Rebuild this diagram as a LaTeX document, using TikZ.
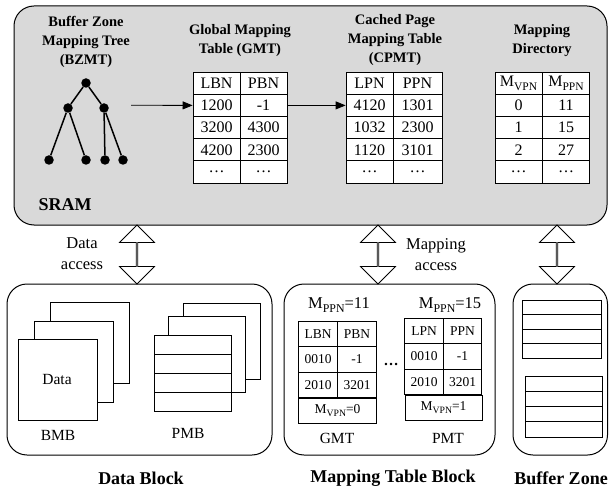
\documentclass[tikz,border=0pt]{standalone}
\usepackage{amsmath}
\usepackage{graphicx}
\usepackage{fontspec}
\setmainfont{Liberation Serif}
\usetikzlibrary{arrows.meta,shapes.arrows,positioning}
\definecolor{sramgray}{rgb}{0.85,0.85,0.85}
\newcommand{\Msub}[1]{M\raisebox{-.45ex}{\scalebox{.72}{#1}}}
\tikzset{
  cell/.style={draw, fill=white, line width=0.8pt, minimum width=47pt, minimum height=22.2pt, inner sep=0pt, font=\fontsize{16}{18}\selectfont},
  smallcell/.style={draw, fill=white, line width=0.8pt, minimum width=38.5pt, minimum height=25.5pt, inner sep=0pt, font=\fontsize{13.5}{16}\selectfont},
  tabtitle/.style={align=center, font=\bfseries\fontsize{14.5}{19}\selectfont},
  blockname/.style={font=\bfseries\fontsize{18}{20}\selectfont},
  txt/.style={align=center, font=\fontsize{16.5}{21}\selectfont},
  dblarrow/.style={draw, fill=white, line width=0.8pt, shape=double arrow, shape border rotate=90, minimum height=59pt, minimum width=35pt, double arrow head extend=8.5pt, inner sep=0pt},
  leaf/.style={circle, fill=black, minimum size=9.5pt, inner sep=0pt},
  block/.style={draw, line width=1pt, rounded corners=20pt},
  sheet/.style={draw, fill=white, line width=0.8pt},
}
\begin{document}
\begin{tikzpicture}[x=1pt,y=-1pt]
  \useasboundingbox (0,0) rectangle (610,489);
  % the SRAM area
  \draw[block, fill=sramgray] (14,6) rectangle (607,225);
  \node[blockname, anchor=west] (sram) at (35,205) {SRAM};
  % buffer zone mapping tree
  \node[tabtitle] (bzmt-title) at (86,42) {Buffer Zone\\Mapping Tree\\(BZMT)};
  \node[leaf] (root) at (86,83) {};
  \node[leaf] (tl) at (68,108) {};
  \node[leaf] (tr) at (104,108) {};
  \node[leaf] (l1) at (49,160) {};
  \node[leaf] (l2) at (86,160) {};
  \node[leaf] (l3) at (105,160) {};
  \node[leaf] (l4) at (123,160) {};
  \draw[line width=1.5pt] (tl) -- (root) -- (tr);
  \draw[line width=1.5pt] (l1) -- (tl) -- (l2);
  \draw[line width=1.5pt] (l3) -- (tr) -- (l4);
  \coordinate (bzmt-out) at (131,105.3);
  % global mapping table
  \node[tabtitle] (gmt-title) at (240,41) {Global Mapping\\Table (GMT)};
  \foreach \a/\b [count=\r] in {LBN/PBN,1200/-1,3200/4300,4200/2300,\dots/\dots}{
    \node[cell] (gmt-\r-1) at (216.5,{61+\r*22.2}) {\a};
    \node[cell] (gmt-\r-2) at (263.5,{61+\r*22.2}) {\b};
  }
  % cached page mapping table
  \node[tabtitle] (cpmt-title) at (395,40) {Cached Page\\Mapping Table\\(CPMT)};
  \foreach \a/\b [count=\r] in {LPN/PPN,4120/1301,1032/2300,1120/3101,\dots/\dots}{
    \node[cell] (cpmt-\r-1) at (369.5,{61+\r*22.2}) {\a};
    \node[cell, minimum width=49pt] (cpmt-\r-2) at (417.5,{61+\r*22.2}) {\b};
  }
  % mapping directory
  \node[tabtitle] (md-title) at (542,41) {Mapping\\Directory};
  \foreach \a/\b [count=\r] in {\Msub{VPN}/\Msub{PPN},0/11,1/15,2/27,\dots/\dots}{
    \node[cell] (md-\r-1) at (518.5,{61+\r*22.2}) {\a};
    \node[cell] (md-\r-2) at (566,{61+\r*22.2}) {\b};
  }
  \draw[line width=0.8pt, -{Triangle[length=10pt,width=8pt]}] (bzmt-out) -- (gmt-2-1.west);
  \draw[line width=0.8pt, -{Triangle[length=10pt,width=8pt]}] (gmt-2-2.east) -- (cpmt-2-1.west);
  % access arrows
  \node[dblarrow] (data-acc) at (137,254.5) {};
  \node[txt] (data-acc-lbl) at (82,254) {Data\\access};
  \node[dblarrow] (map-acc) at (378,254.5) {};
  \node[txt] (map-acc-lbl) at (436,255) {Mapping\\access};
  \node[dblarrow] (buf-acc) at (557,254.5) {};
  % data block
  \draw[block] (7,284) rectangle (272,455);
  \foreach \dx/\dy in {32/-37,16/-18,0/0}
    \draw[sheet] ({18+\dx},{339+\dy}) rectangle ++(79,81);
  \node[txt, font=\fontsize{15.5}{18}\selectfont] (bmb-data) at (57,379) {Data};
  \foreach \dx/\dy in {29/-32,14/-19,0/0}
    \draw[sheet] ({154+\dx},{335+\dy}) rectangle ++(77,76);
  \foreach \y in {354,373,392}
    \draw[line width=0.8pt] (154,\y) -- (231,\y);
  \node[txt, font=\fontsize{15.5}{18}\selectfont] (bmb) at (58,435) {BMB};
  \node[txt, font=\fontsize{15.5}{18}\selectfont] (pmb) at (188,433) {PMB};
  \node[blockname] (data-block) at (141,478) {Data Block};
  % mapping table block
  \draw[block] (284,284) rectangle (495,455);
  \node[txt] (gmt-page) at (339,305) {\Msub{PPN}=11};
  \node[txt] (pmt-page) at (450,305) {\Msub{PPN}=15};
  \foreach \a/\b [count=\r] in {LBN/PBN,0010/-1,2010/3201}{
    \node[smallcell] (sgmt-\r-1) at (318,{308.25+\r*25.5}) {\a};
    \node[smallcell] (sgmt-\r-2) at (357,{308.25+\r*25.5}) {\b};
  }
  \node[smallcell, minimum width=78pt] (sgmt-vpn) at (337.5,410.75) {\Msub{VPN}=0};
  \foreach \a/\b [count=\r] in {LPN/PPN,0010/-1,2010/3201}{
    \node[smallcell] (spmt-\r-1) at (424,{305.25+\r*25.5}) {\a};
    \node[smallcell] (spmt-\r-2) at (462.5,{305.25+\r*25.5}) {\b};
  }
  \node[smallcell, minimum width=77pt] (spmt-vpn) at (443.5,407.75) {\Msub{VPN}=1};
  \node[txt, font=\bfseries\fontsize{15}{18}\selectfont] (more) at (391,364) {\dots};
  \node[txt, font=\fontsize{15.5}{18}\selectfont] (gmt-lbl) at (337,438) {GMT};
  \node[txt, font=\fontsize{15.5}{18}\selectfont] (pmt-lbl) at (448,438) {PMT};
  \node[blockname] (map-block) at (393,478) {Mapping Table Block};
  % buffer zone
  \draw[block] (513,284) rectangle (607.5,455);
  \foreach \i in {0,...,3}
    \draw[sheet] (522,{300+\i*14.5}) rectangle ++(79,14.5);
  \foreach \i in {0,...,3}
    \draw[sheet] (525,{376+\i*15.25}) rectangle ++(77,15.25);
  \node[blockname] (buf-zone) at (561,478) {Buffer Zone};
\end{tikzpicture}
\end{document}
